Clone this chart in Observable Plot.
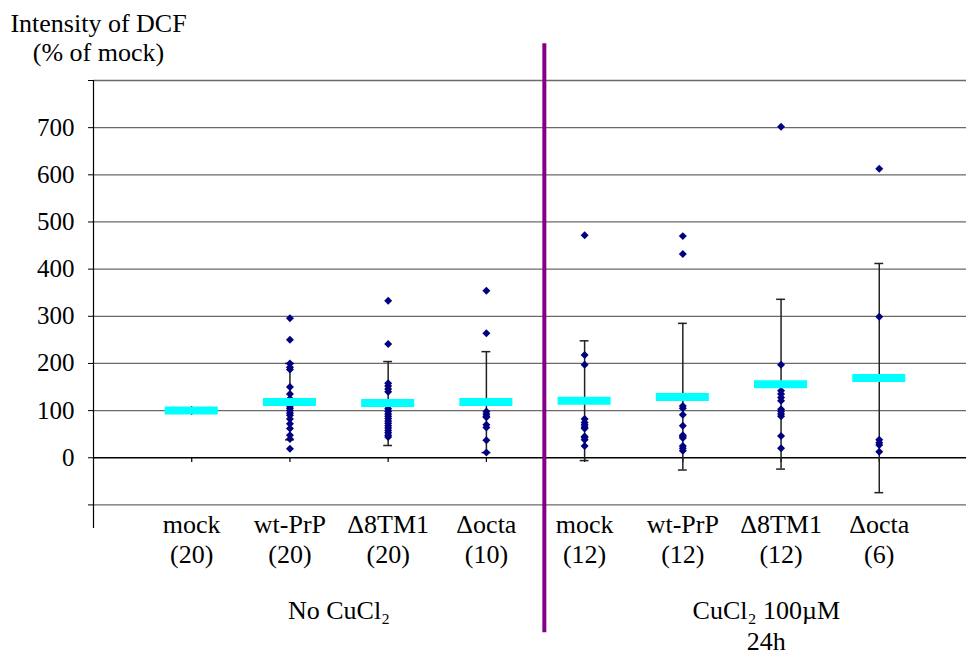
<!DOCTYPE html>
<html>
<head>
<meta charset="utf-8">
<script src="https://cdn.jsdelivr.net/npm/d3@7"></script>
<script src="https://cdn.jsdelivr.net/npm/@observablehq/plot@0.6"></script>
<style>
  html, body { margin: 0; padding: 0; background: white; overflow: hidden; }
</style>
</head>
<body>
<div id="chart"></div>
<script>
// ---- data ----
const categoryNames = ["mock", "wt-PrP", "Δ8TM1", "Δocta", "mock", "wt-PrP", "Δ8TM1", "Δocta"];
const categoryCounts = ["(20)", "(20)", "(20)", "(10)", "(12)", "(12)", "(12)", "(6)"];
const categoryX = [1, 2, 3, 4, 5, 6, 7, 8];

const mockNoCu   = [100,100,100,100,100,100,100,100,100,100,100,100,100,100,100,100,100,100,100,100];
const wtNoCu     = [296, 250, 200, 192, 187, 150, 135, 125, 115, 110, 105, 100, 95, 90, 82, 72, 62, 48, 40, 19];
const d8NoCu     = [333, 241, 158, 152, 146, 140, 110, 104, 98, 93, 88, 83, 78, 73, 68, 63, 58, 53, 48, 44];
const octaNoCu   = [354, 264, 98, 93, 88, 86, 70, 64, 37, 11];
const mockCu     = [472, 218, 197, 82, 75, 70, 65, 62, 45, 43, 38, 25];
const wtCu       = [470, 432, 110, 105, 91, 68, 48, 45, 42, 25, 20, 15];
const d8Cu       = [702, 197, 142, 135, 128, 121, 103, 98, 93, 88, 46, 20];
const octaCu     = [613, 299, 38, 32, 27, 13];
const seriesValues = [mockNoCu, wtNoCu, d8NoCu, octaNoCu, mockCu, wtCu, d8Cu, octaCu];

const means   = [100, 118, 116, 118, 121, 129, 156, 169];
const errLow  = [null, 38, 26, 11, -6, -26, -24, -74];
const errHigh = [null, 200, 204, 225, 248, 285, 336, 412];

const yTicks = [-100, 0, 100, 200, 300, 400, 500, 600, 700, 800];
const yTickLabels = ["", "0", "100", "200", "300", "400", "500", "600", "700", ""];

const groupLabels = ["No CuCl₂", "CuCl₂ 100µM\n24h"];
const groupX = [2.5, 6.85];
const dividerX = 4.59;
const dividerSpan = [878, -371];
const titleText = "Intensity of DCF\n(% of mock)";

// ---- derived tables ----
const points = seriesValues.flatMap((vals, i) => vals.map(v => ({x: categoryX[i], v})));
const meanData = means.map((m, i) => ({x: categoryX[i], m}));
const errData = means.map((m, i) => ({x: categoryX[i], lo: errLow[i], hi: errHigh[i]})).filter(d => d.lo != null);
const capData = errData.flatMap(d => [{x: d.x, v: d.lo}, {x: d.x, v: d.hi}]);
const catData = categoryX.map((x, i) => ({x, label: categoryNames[i] + "\n" + categoryCounts[i]}));
const labelMap = new Map(yTicks.map((t, i) => [t, yTickLabels[i]]));

const font = "\"Liberation Serif\", \"Times New Roman\", Tinos, Times, \"Nimbus Roman\", \"Noto Serif\", \"DejaVu Serif\", FreeSerif, serif";

const chart = Plot.plot({
  width: 966,
  height: 655,
  marginTop: 80,
  marginBottom: 127,
  marginLeft: 93,
  marginRight: 0,
  style: {fontSize: "25px", color: "black", background: "white", overflow: "visible"},
  x: {domain: [0, 9], range: [93, 977], axis: null},
  y: {domain: [-150, 800], ticks: yTicks, tickSize: 5, tickPadding: 14,
      tickFormat: d => labelMap.get(d) ?? "", label: null},
  marks: [
    Plot.ruleY(yTicks.filter(t => t !== 0), {stroke: "#6a6a6a", strokeWidth: 1.3}),
    Plot.ruleY([0], {stroke: "black", strokeWidth: 1.5}),
    Plot.ruleX([0], {stroke: "black", strokeWidth: 1.2}),
    Plot.ruleX(categoryX, {y1: 0, y2: -10, stroke: "black", strokeWidth: 1.2}),
    Plot.ruleX(errData, {x: "x", y1: "lo", y2: "hi", stroke: "#222", strokeWidth: 1.5}),
    Plot.ruleY(capData, {y: "v", x1: d => d.x - 0.045, x2: d => d.x + 0.045, stroke: "#222", strokeWidth: 1.5}),
    Plot.dot(points, {x: "x", y: "v", symbol: "diamond2", r: 3.6, fill: "#000080", stroke: "none"}),
    Plot.ruleY(meanData, {y: "m", x1: d => d.x - 0.27, x2: d => d.x + 0.27, stroke: "#00FFFF", strokeWidth: 8}),
    Plot.ruleX([dividerX], {y1: dividerSpan[0], y2: dividerSpan[1], stroke: "#850085", strokeWidth: 4, clip: false}),
    Plot.text(catData, {x: "x", text: "label", frameAnchor: "bottom", lineAnchor: "middle", dy: 9.5, lineHeight: 1.17, fontSize: 26, fill: "black"}),
    Plot.text([groupLabels[0]], {x: [groupX[0]], text: d => d, frameAnchor: "bottom", lineAnchor: "middle", dy: 82, fontSize: 26, fill: "black"}),
    Plot.text([groupLabels[1]], {x: [groupX[1]], text: d => d, frameAnchor: "bottom", lineAnchor: "middle", dy: 96, lineHeight: 1.18, fontSize: 26, fill: "black"}),
    Plot.text([titleText], {text: d => d, frameAnchor: "top-left", textAnchor: "middle", lineAnchor: "middle", dx: 5, dy: -43, lineHeight: 1.12, fontSize: 26, fill: "black"})
  ]
});
chart.setAttribute("font-family", font);
chart.style.fontFamily = font;
d3.select(chart).selectAll("g, text").attr("font-family", null).style("font-family", font);
document.getElementById("chart").appendChild(chart);
</script>
</body>
</html>
